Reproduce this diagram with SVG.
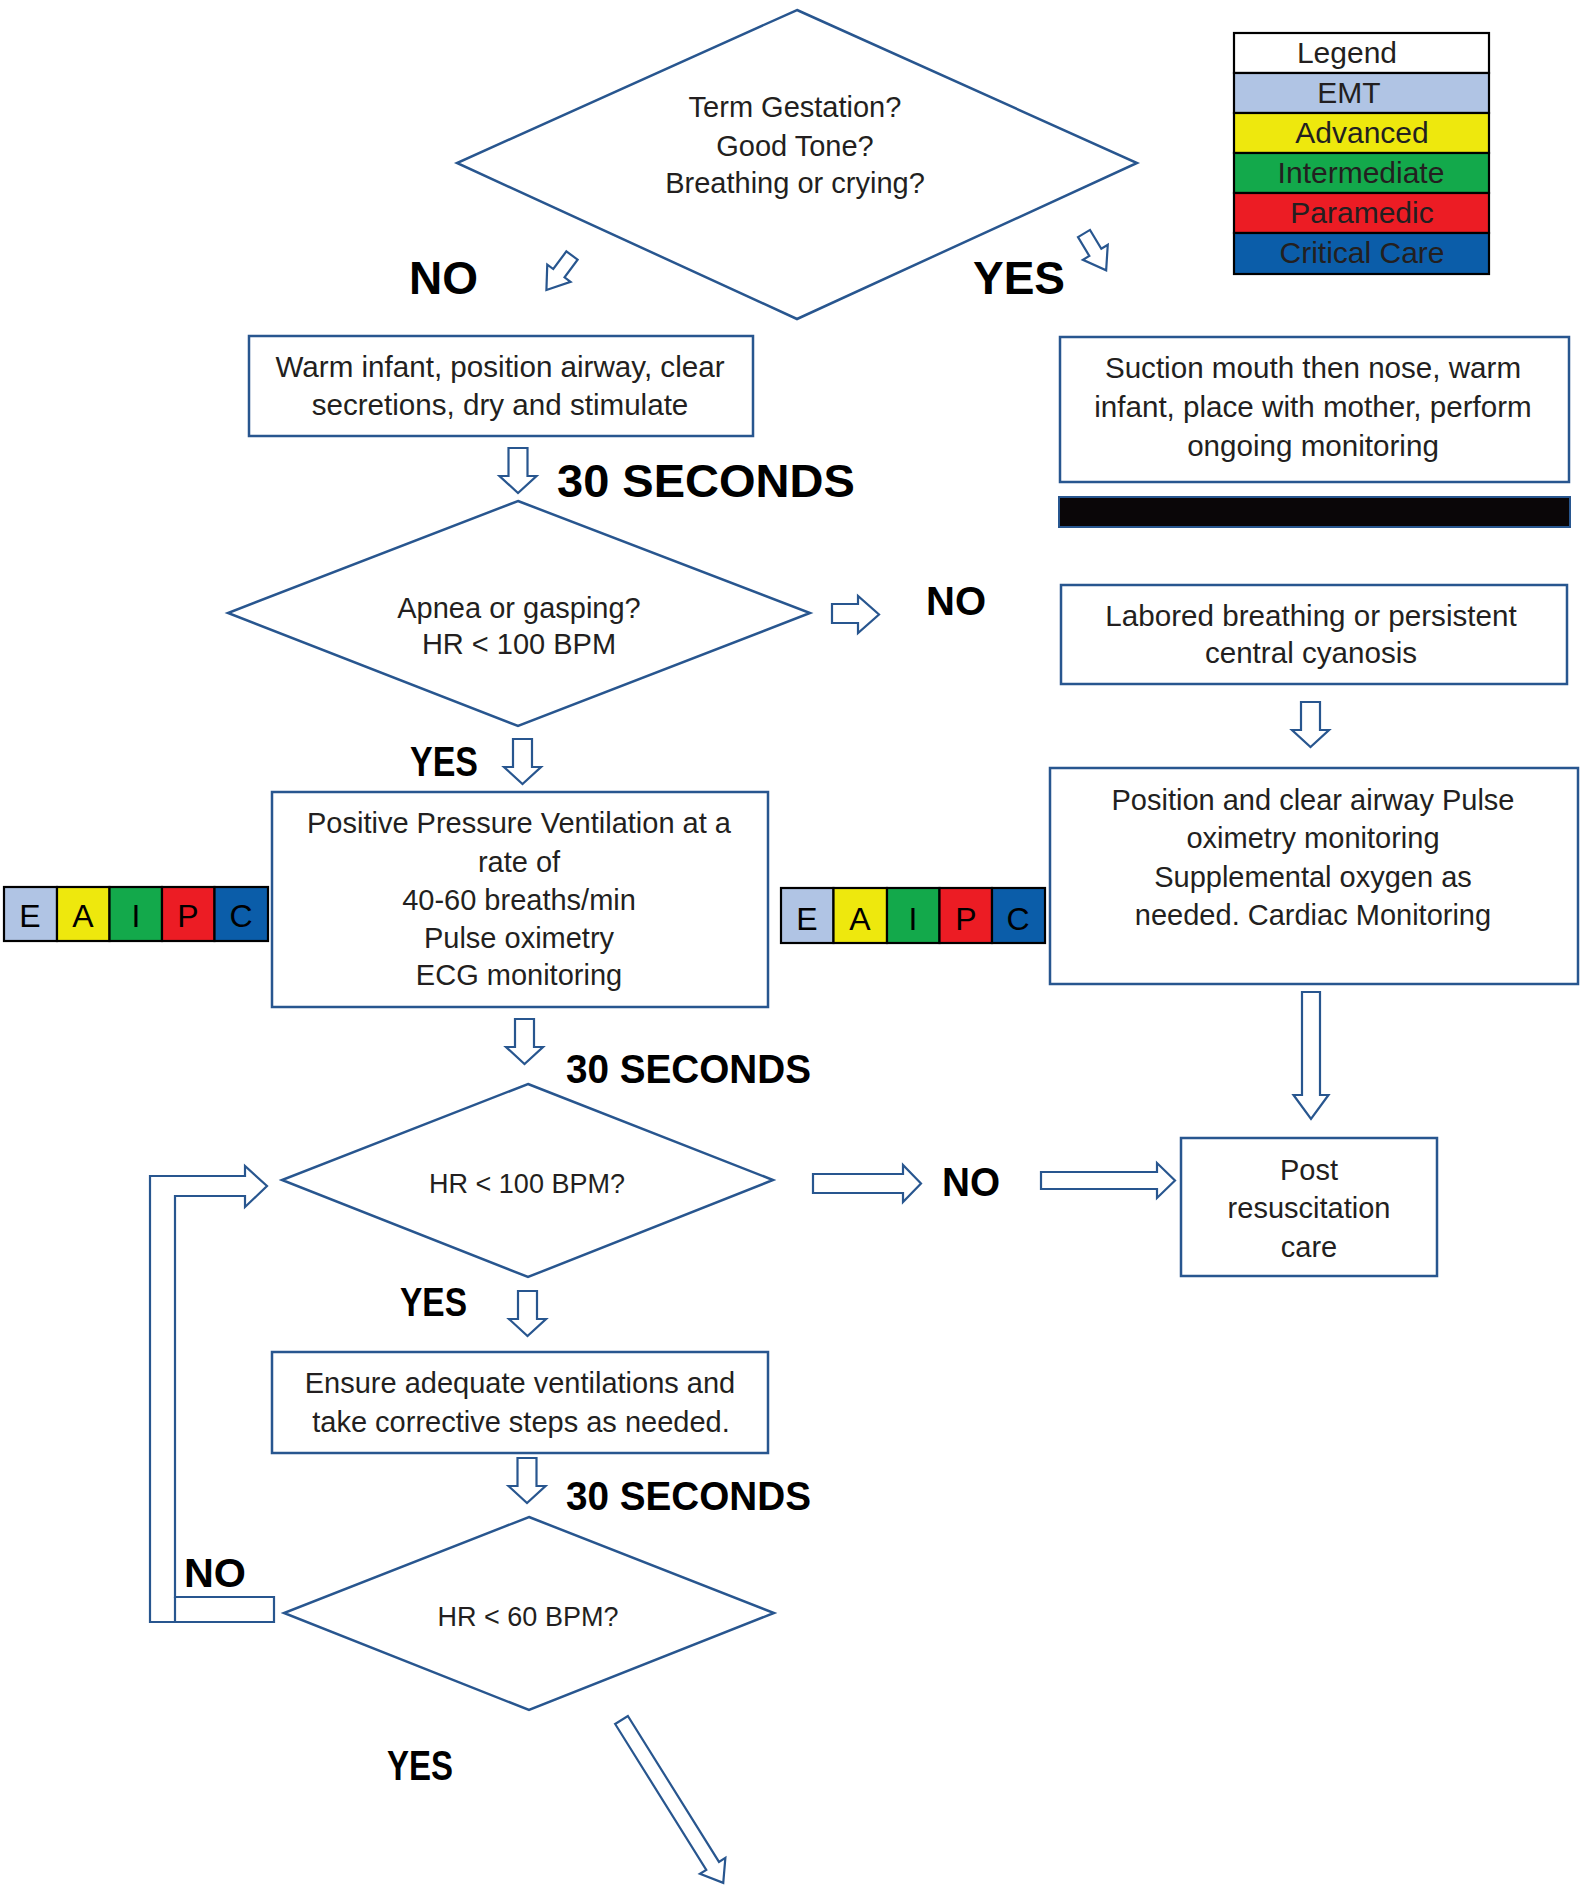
<svg xmlns="http://www.w3.org/2000/svg" width="1583" height="1885" viewBox="0 0 1583 1885">
<style>
.s{fill:#fff;stroke:#28568F;stroke-width:2.5}
.ar{fill:#fff;stroke:#28568F;stroke-width:2.2;stroke-linejoin:miter}
.t{font-family:"Liberation Sans",Arial,sans-serif;font-size:29px;fill:#231F20;text-anchor:middle}
.w{font-size:29.6px}
.d{font-size:27px}
.lgt{font-size:30px}
.b{font-family:"Liberation Sans",Arial,sans-serif;font-weight:bold;fill:#000}
.lg{stroke:#000;stroke-width:2.2}
.cell{stroke:#000;stroke-width:2.2}
.lt{font-family:"Liberation Sans",Arial,sans-serif;font-size:32px;fill:#000;text-anchor:middle}
</style>
<defs>
<path id="darr" d="M-9.5,0 H9.5 V28 H18.5 L0,45 L-18.5,28 H-9.5 Z"/>
<path id="sarr" d="M-7,0 H7 V22 H14.5 L0,43 L-14.5,22 H-7 Z"/>
</defs>
<rect width="1583" height="1885" fill="#fff"/>

<g id="legend">
<rect class="lg" x="1234" y="33" width="255" height="40" fill="#fff"/>
<rect class="lg" x="1234" y="73" width="255" height="40" fill="#B0C4E4"/>
<rect class="lg" x="1234" y="113" width="255" height="40" fill="#EEE80D"/>
<rect class="lg" x="1234" y="153" width="255" height="40" fill="#13A94B"/>
<rect class="lg" x="1234" y="193" width="255" height="40" fill="#EC1C24"/>
<rect class="lg" x="1234" y="233" width="255" height="41" fill="#0B5DA9"/>
<text class="t lgt" x="1347" y="63">Legend</text>
<text class="t lgt" x="1349" y="103">EMT</text>
<text class="t lgt" x="1362" y="143">Advanced</text>
<text class="t lgt" x="1361" y="183">Intermediate</text>
<text class="t lgt" x="1362" y="223">Paramedic</text>
<text class="t lgt" x="1362" y="263">Critical Care</text>
</g>

<g id="d1">
<polygon class="s" points="797,10 1137,163 797,319 457,163"/>
<text class="t" x="795" y="117">Term Gestation?</text>
<text class="t" x="795" y="156">Good Tone?</text>
<text class="t" x="795" y="193">Breathing or crying?</text>
</g>

<g id="warm">
<rect class="s" x="249" y="336" width="504" height="100"/>
<text class="t w" x="500" y="377">Warm infant, position airway, clear</text>
<text class="t w" x="500" y="415">secretions, dry and stimulate</text>
</g>

<g id="suction">
<rect class="s" x="1060" y="337" width="509" height="145"/>
<text class="t w" x="1313" y="378">Suction mouth then nose, warm</text>
<text class="t w" x="1313" y="417">infant, place with mother, perform</text>
<text class="t w" x="1313" y="456">ongoing monitoring</text>
</g>

<g id="blackbar">
<rect x="1059" y="497" width="511" height="30" fill="#0A0608" stroke="#28568F" stroke-width="2"/>
</g>

<g id="labored">
<rect class="s" x="1061" y="585" width="506" height="99"/>
<text class="t w" x="1311" y="626">Labored breathing or persistent</text>
<text class="t w" x="1311" y="663">central cyanosis</text>
</g>

<g id="d2">
<polygon class="s" points="518,501 810,613 518,726 228,613"/>
<text class="t" x="519" y="618">Apnea or gasping?</text>
<text class="t" x="519" y="654">HR &lt; 100 BPM</text>
</g>

<g id="ppv">
<rect class="s" x="272" y="792" width="496" height="215"/>
<text class="t" x="519" y="833">Positive Pressure Ventilation at a</text>
<text class="t" x="519" y="872">rate of</text>
<text class="t" x="519" y="910">40-60 breaths/min</text>
<text class="t" x="519" y="948">Pulse oximetry</text>
<text class="t" x="519" y="985">ECG monitoring</text>
</g>

<g id="position">
<rect class="s" x="1050" y="768" width="528" height="216"/>
<text class="t" x="1313" y="810">Position and clear airway Pulse</text>
<text class="t" x="1313" y="848">oximetry monitoring</text>
<text class="t" x="1313" y="887">Supplemental oxygen as</text>
<text class="t" x="1313" y="925">needed. Cardiac Monitoring</text>
</g>

<g id="strip-left">
<rect class="cell" x="4" y="887" width="53" height="54" fill="#B0C4E4"/>
<rect class="cell" x="57" y="887" width="52.5" height="54" fill="#EEE80D"/>
<rect class="cell" x="109.5" y="887" width="52.5" height="54" fill="#13A94B"/>
<rect class="cell" x="162" y="887" width="52.5" height="54" fill="#EC1C24"/>
<rect class="cell" x="214.5" y="887" width="53.5" height="54" fill="#0B5DA9"/>
<text class="lt" x="30" y="927">E</text>
<text class="lt" x="83" y="927">A</text>
<text class="lt" x="136" y="927">I</text>
<text class="lt" x="188" y="927">P</text>
<text class="lt" x="241" y="927">C</text>
</g>

<g id="strip-right">
<rect class="cell" x="781" y="888" width="52.5" height="55" fill="#B0C4E4"/>
<rect class="cell" x="833.5" y="888" width="53.5" height="55" fill="#EEE80D"/>
<rect class="cell" x="887" y="888" width="52.5" height="55" fill="#13A94B"/>
<rect class="cell" x="939.5" y="888" width="52.5" height="55" fill="#EC1C24"/>
<rect class="cell" x="992" y="888" width="53" height="55" fill="#0B5DA9"/>
<text class="lt" x="807" y="930">E</text>
<text class="lt" x="860" y="930">A</text>
<text class="lt" x="913" y="930">I</text>
<text class="lt" x="966" y="930">P</text>
<text class="lt" x="1018" y="930">C</text>
</g>

<g id="d3">
<polygon class="s" points="528,1084 773,1180 528,1277 282,1180"/>
<text class="t d" x="527" y="1193">HR &lt; 100 BPM?</text>
</g>

<g id="post">
<rect class="s" x="1181" y="1138" width="256" height="138"/>
<text class="t" x="1309" y="1180">Post</text>
<text class="t" x="1309" y="1218">resuscitation</text>
<text class="t" x="1309" y="1257">care</text>
</g>

<g id="ensure">
<rect class="s" x="272" y="1352" width="496" height="101"/>
<text class="t" x="520" y="1393">Ensure adequate ventilations and</text>
<text class="t" x="521" y="1432">take corrective steps as needed.</text>
</g>

<g id="d4">
<polygon class="s" points="529,1517 774,1613 529,1710 284,1613"/>
<text class="t d" x="528" y="1626">HR &lt; 60 BPM?</text>
</g>

<g id="connectors">
<use href="#sarr" class="ar" transform="translate(572,255.5) rotate(36.5)"/>
<use href="#sarr" class="ar" transform="translate(1084,233.5) rotate(-31)"/>
<use href="#darr" class="ar" x="518" y="448"/>
<use href="#darr" class="ar" x="522.5" y="739"/>
<use href="#darr" class="ar" x="1310.5" y="702"/>
<use href="#darr" class="ar" x="524.5" y="1019"/>
<use href="#darr" class="ar" x="527.5" y="1291"/>
<use href="#darr" class="ar" x="527" y="1458"/>
<path class="ar" d="M1302,992 H1320 V1095 H1328.5 L1311,1119 L1293.5,1095 H1302 Z"/>
<path class="ar" d="M832,604 H858 V596 L879,614.5 L858,633 V623 H832 Z"/>
<path class="ar" d="M813,1174 H903 V1165 L921,1183.5 L903,1202 V1193 H813 Z"/>
<path class="ar" d="M1041,1172 H1157 V1163 L1175,1180.5 L1157,1198 V1189 H1041 Z"/>
<path class="ar" d="M150,1176 H245 V1166 L267,1186 L245,1207 V1196 H175 V1597 H274 V1622 H150 Z"/>
<line x1="175" y1="1597" x2="175" y2="1622" stroke="#28568F" stroke-width="2.2"/>
<path class="ar" transform="translate(621.5,1720) rotate(-32)" d="M-7.5,0 H7.5 V172 H15 L0,192 L-15,172 H-7.5 Z"/>
</g>

<g id="labels">
<text class="b" x="409" y="294" font-size="46">NO</text>
<text class="b" x="973" y="294" font-size="46">YES</text>
<text class="b" x="557" y="497" font-size="47">30 SECONDS</text>
<text class="b" x="926" y="615" font-size="40">NO</text>
<text class="b" x="410" y="776" font-size="42" textLength="68" lengthAdjust="spacingAndGlyphs">YES</text>
<text class="b" x="566" y="1083" font-size="41" textLength="245" lengthAdjust="spacingAndGlyphs">30 SECONDS</text>
<text class="b" x="942" y="1196" font-size="41" textLength="58" lengthAdjust="spacingAndGlyphs">NO</text>
<text class="b" x="400" y="1316" font-size="40" textLength="67" lengthAdjust="spacingAndGlyphs">YES</text>
<text class="b" x="566" y="1510" font-size="41" textLength="245" lengthAdjust="spacingAndGlyphs">30 SECONDS</text>
<text class="b" x="184" y="1587" font-size="41" textLength="62" lengthAdjust="spacingAndGlyphs">NO</text>
<text class="b" x="387" y="1780" font-size="42" textLength="66" lengthAdjust="spacingAndGlyphs">YES</text>
</g>
</svg>
